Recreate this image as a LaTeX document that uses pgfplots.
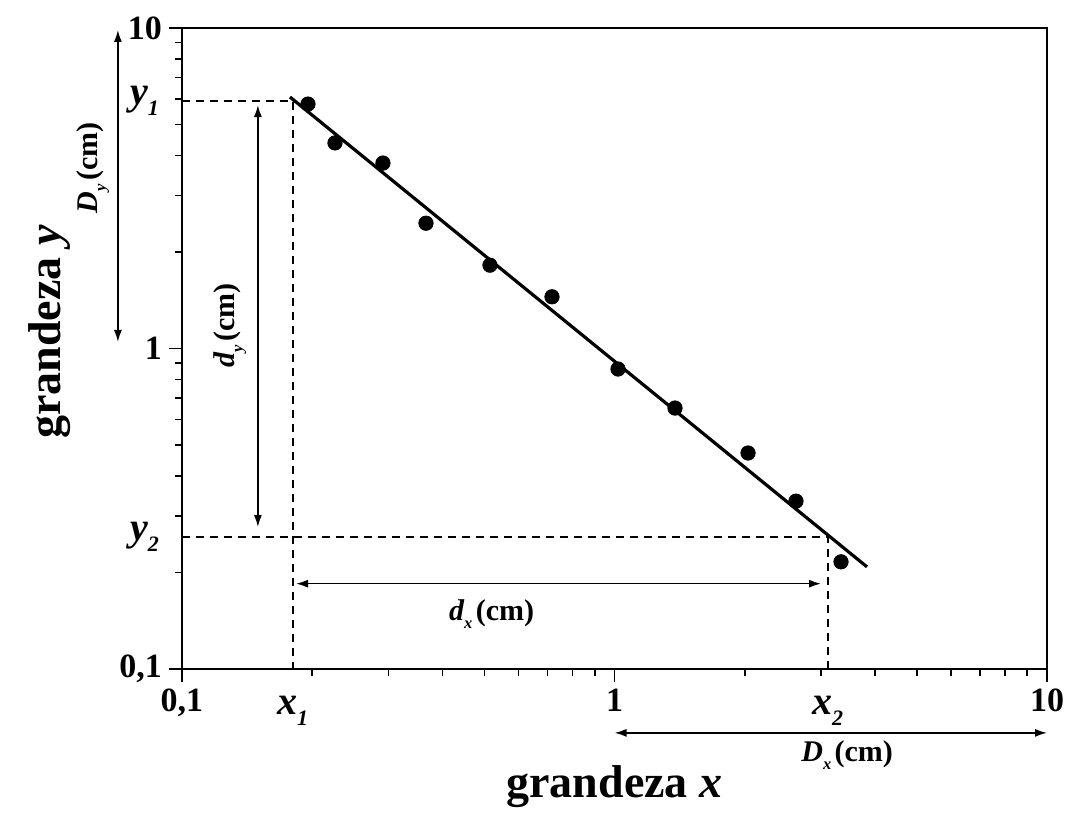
\documentclass[border=0pt]{standalone}
\usepackage{fontspec}
\setmainfont{Liberation Serif}
\usepackage{pgfplots}
\pgfplotsset{compat=1.18}
\usepackage{pgfplotstable}
\usetikzlibrary{arrows.meta}

% italic bold letter with a lowered italic subscript
\newcommand\lab[3]{{\fontsize{#3}{#3}\selectfont\bfseries\itshape #1\raisebox{-0.6ex}{\fontsize{0.55\dimexpr#3pt\relax}{1}\selectfont #2}}}

\pgfplotstableread{
x      y
0.1956 5.79
0.2258 4.38
0.2915 3.79
0.3666 2.46
0.5153 1.82
0.7170 1.45
1.019  0.863
1.380  0.652
2.036  0.472
2.628  0.334
3.340  0.216
}\medidas

\begin{document}
\begin{tikzpicture}[>={Latex[length=6pt,width=4pt]}]
\begin{axis}[
  xmode=log, ymode=log,
  scale only axis,
  width=432.5pt, height=320.5pt,
  xmin=0.1, xmax=10, ymin=0.1, ymax=10,
  xtick={0.1,1,10}, xticklabels={{0,1},1,10},
  ytick={0.1,1,10}, yticklabels={{0,1},1,10},
  tick align=outside,
  xtick pos=bottom, ytick pos=left,
  major tick length=6.5pt, minor tick length=3.5pt,
  axis line style={line width=1pt},
  every tick/.style={black, line width=0.8pt},
  tick label style={font=\fontsize{17}{17}\selectfont\bfseries},
  xlabel={grandeza \textit{x}},
  ylabel={grandeza \textit{y}},
  label style={font=\fontsize{23}{23}\selectfont\bfseries},
  xlabel style={at={(axis description cs:0.5,-0.184)}, anchor=center},
  ylabel style={at={(axis description cs:-0.1526,0.5257)}, anchor=center},
  clip=false,
]
% frame of the whole picture, as in the reference
\path (rel axis cs:-0.2104,-0.2200) rectangle (rel axis cs:1.0289,1.0437);

% guide lines
\addplot[black, line width=0.9pt, dash pattern=on 4pt off 3pt] coordinates {(0.1,5.92) (0.1803,5.92) (0.1803,0.1)};
\addplot[black, line width=0.9pt, dash pattern=on 4pt off 3pt] coordinates {(0.1,0.2588) (3.11,0.2588) (3.11,0.1)};

% fitted line
\addplot[black, line width=1.6pt] coordinates {(0.1777,6.09) (3.836,0.2083)};

% measured points
\addplot[only marks, mark=*, mark size=3.6pt, black] table {\medidas};

% distances
\draw[<->, line width=0.8pt] (axis cs:0.1498,5.75) -- (axis cs:0.1498,0.2773);
\draw[<->, line width=0.8pt] (axis cs:0.1835,0.1846) -- (axis cs:3.003,0.1846);
\draw[<->, line width=0.8pt] (axis cs:0.0711,9.86) -- (axis cs:0.0711,1.048);
\draw[<->, line width=0.8pt] (axis cs:1,0.0632) -- (axis cs:10,0.0632);

\node[rotate=90] at (axis cs:0.129,1.18) {\lab{d}{y}{15}\,{\fontsize{15}{15}\selectfont\bfseries(cm)}};
\node[rotate=90] at (axis cs:0.0622,3.66) {\lab{D}{y}{15}\,{\fontsize{15}{15}\selectfont\bfseries(cm)}};
\node at (axis cs:0.520,0.148) {\lab{d}{x}{15}\,{\fontsize{15}{15}\selectfont\bfseries(cm)}};
\node at (axis cs:3.45,0.054) {\lab{D}{x}{15}\,{\fontsize{15}{15}\selectfont\bfseries(cm)}};

% coordinate labels
\node[anchor=east] at ([xshift=-8pt]axis cs:0.1,5.92) {\lab{y}{1}{20}};
\node[anchor=east] at ([xshift=-8pt]axis cs:0.1,0.2588) {\lab{y}{2}{20}};
\node[anchor=north] at ([yshift=-10pt]axis cs:0.1803,0.1) {\lab{x}{1}{20}};
\node[anchor=north] at ([yshift=-10pt]axis cs:3.11,0.1) {\lab{x}{2}{20}};
\end{axis}
\end{tikzpicture}
\end{document}
